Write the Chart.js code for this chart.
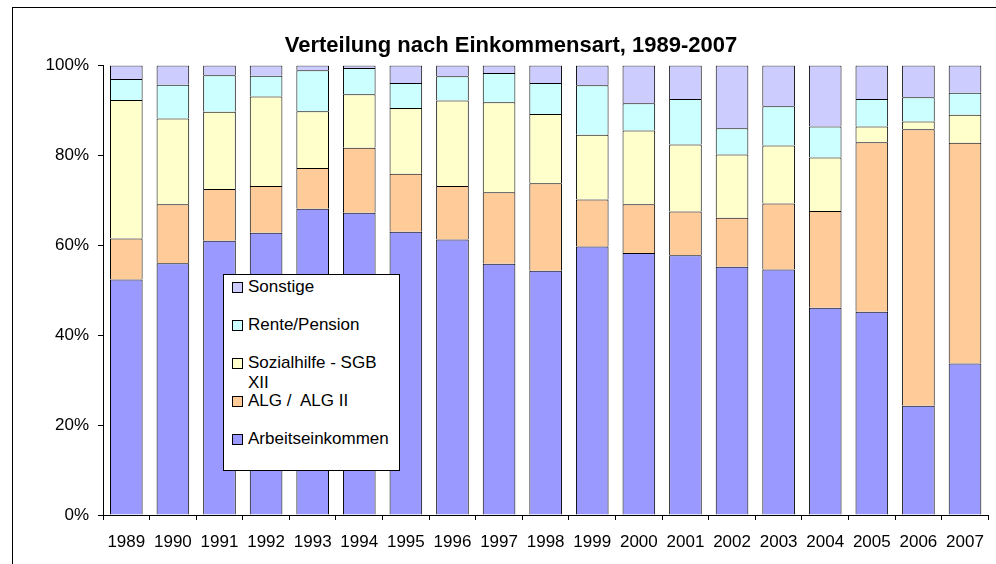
<!DOCTYPE html>
<html>
<head>
<meta charset="utf-8">
<script src="https://cdn.jsdelivr.net/npm/chart.js@4"></script>
<style>
  html, body { margin: 0; padding: 0; background: #fff; }
  body {
    width: 996px; height: 564px; position: relative; overflow: hidden;
    font-family: "Liberation Sans", Arial, sans-serif;
  }
  #frame {
    position: absolute; left: 12px; top: 7px; width: 1100px; height: 700px;
    border: 1px solid #000;
  }
  #chart { position: absolute; left: 0; top: 0; }
  #legend {
    position: absolute; left: 223px; top: 274px; width: 175px; height: 195px;
    border: 1px solid #000; background: #fff;
  }
  .item { position: absolute; left: 0; width: 170px; }
  .box {
    position: absolute; left: 8px; width: 11px; height: 11px;
    box-sizing: border-box; border: 1px solid #000;
  }
  .txt {
    position: absolute; left: 24px; width: 148px;
    font-size: 17px; line-height: 20px; color: #000; white-space: pre-wrap;
  }
</style>
</head>
<body>
<div id="frame"></div>
<canvas id="chart" width="996" height="564"></canvas>
<div id="legend"></div>

<script>
// === Data (share of income type per year, %) ===
const years = ["1989", "1990", "1991", "1992", "1993", "1994", "1995", "1996", "1997", "1998",
  "1999", "2000", "2001", "2002", "2003", "2004", "2005", "2006", "2007"];

const arbeitseinkommen = [52.4, 56.0, 61.0, 62.8, 68.1, 67.2, 63.0, 61.3, 55.9, 54.3,
  59.7, 58.3, 57.8, 55.2, 54.6, 46.1, 45.2, 24.3, 33.7];
const alg = [9.1, 13.1, 11.5, 10.4, 9.1, 14.5, 12.9, 11.9, 15.9, 19.5,
  10.5, 10.8, 9.7, 10.9, 14.7, 21.5, 37.7, 61.5, 49.1];
const sozialhilfe = [30.8, 19.1, 17.2, 19.9, 12.6, 11.9, 14.6, 19.0, 20.0, 15.4,
  14.4, 16.4, 14.9, 14.1, 12.9, 11.9, 3.5, 1.7, 6.2];
const rente = [4.7, 7.5, 8.1, 4.6, 9.1, 5.8, 5.6, 5.4, 6.5, 6.9,
  11.0, 6.1, 10.1, 5.8, 8.7, 6.9, 6.1, 5.4, 4.9];
const sonstige = [3.0, 4.3, 2.2, 2.3, 1.1, 0.6, 3.9, 2.4, 1.7, 3.9,
  4.4, 8.4, 7.5, 14.0, 9.1, 13.6, 7.5, 7.1, 6.1];

const yTicks = [0, 20, 40, 60, 80, 100];

const FONT = '"Liberation Sans", Arial, sans-serif';

// === Chart ===
const ctx = document.getElementById("chart").getContext("2d");
const chart = new Chart(ctx, {
  type: "bar",
  data: {
    labels: years,
    datasets: [
      { label: "Arbeitseinkommen", data: arbeitseinkommen, backgroundColor: "#9999ff" },
      { label: "ALG /  ALG II", data: alg, backgroundColor: "#ffcc99" },
      { label: "Sozialhilfe - SGB XII", data: sozialhilfe, backgroundColor: "#ffffcc" },
      { label: "Rente/Pension", data: rente, backgroundColor: "#ccffff" },
      { label: "Sonstige", data: sonstige, backgroundColor: "#ccccff" },
    ].map((d) => ({
      ...d,
      borderColor: "#000",
      borderWidth: 1,
      barPercentage: 0.7,
      categoryPercentage: 1.0,
    })),
  },
  options: {
    responsive: false,
    animation: false,
    devicePixelRatio: 1,
    layout: { padding: { left: 29, right: 3, top: 33, bottom: 0 } },
    plugins: {
      legend: { display: false },
      tooltip: { enabled: false },
      title: {
        display: true,
        text: "Verteilung nach Einkommensart, 1989-2007",
        color: "#000",
        font: { family: FONT, size: 22, weight: "bold" },
        padding: { top: 0, bottom: 6 },
      },
    },
    scales: {
      x: {
        stacked: true,
        afterFit: (scale) => {
          scale.height = 49;
        },
        grid: { drawOnChartArea: false, tickLength: 5, color: "#000", offset: true },
        border: { color: "#000" },
        ticks: {
          color: "#000", font: { family: FONT, size: 17 }, padding: 12,
          maxRotation: 0, autoSkip: false,
        },
      },
      y: {
        stacked: true,
        min: 0,
        max: 100,
        afterBuildTicks: (scale) => {
          scale.ticks = yTicks.map((v) => ({ value: v }));
        },
        afterFit: (scale) => {
          scale.width = 74;
        },
        grid: { drawOnChartArea: false, tickLength: 5, color: "#000" },
        border: { color: "#000" },
        ticks: {
          color: "#000", font: { family: FONT, size: 17 }, padding: 9,
          callback: (v) => v + "%",
        },
      },
    },
  },
});

// === Legend (top to bottom: reverse of stack order) ===
function renderLegend() {
  const el = document.getElementById("legend");
  const tops = [2, 40, 78, 116, 154];
  const items = chart.data.datasets.slice().reverse();
  el.innerHTML = items
    .map((d, i) => `
      <div class="item" style="top:${tops[i]}px">
        <div class="box" style="top:${4.5}px;background:${d.backgroundColor}"></div>
        <div class="txt" style="top:0">${d.label}</div>
      </div>`)
    .join("");
}
renderLegend();
</script>
</body>
</html>
